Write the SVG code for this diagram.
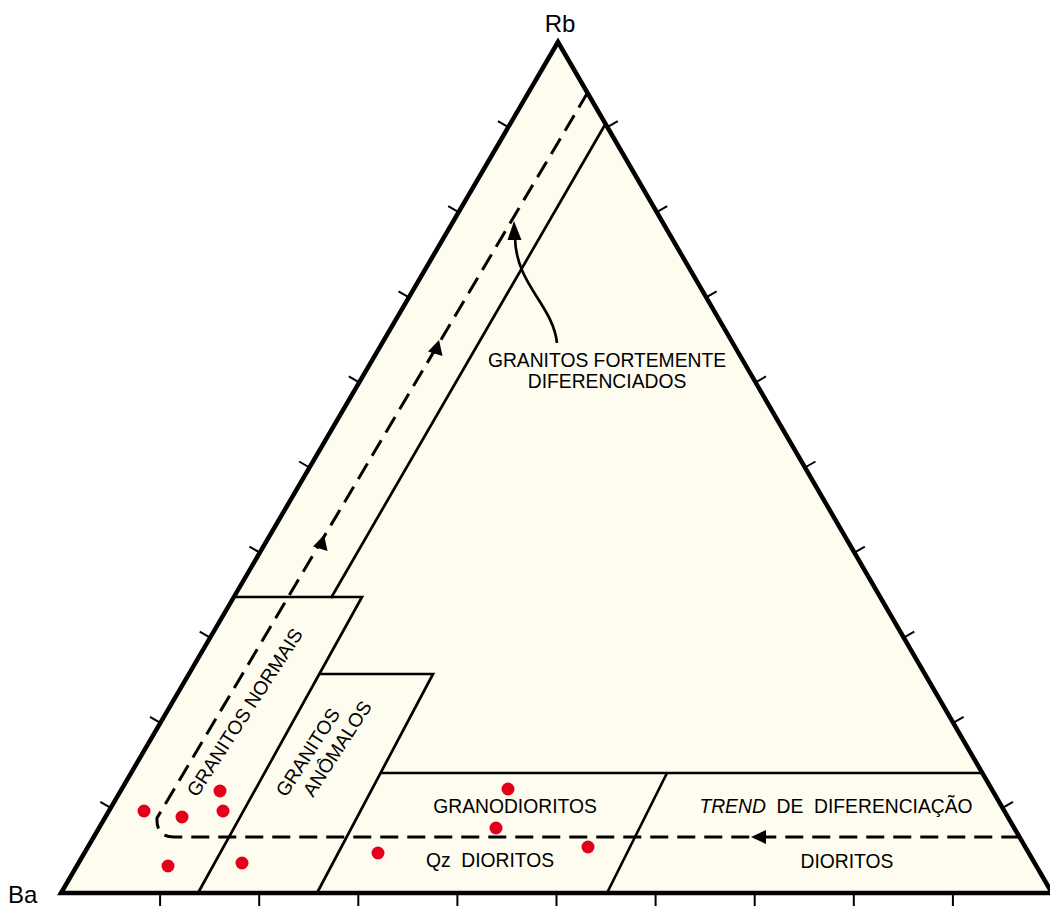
<svg xmlns="http://www.w3.org/2000/svg" width="1050" height="906" viewBox="0 0 1050 906">
<defs>
<style>
.lbl{font-family:"Liberation Sans",Arial,sans-serif;font-size:19.3px;fill:#000;}
.ax{font-family:"Liberation Sans",Arial,sans-serif;font-size:24px;fill:#000;}
.solid{fill:none;stroke:#000;stroke-width:2.7;}
.dash{fill:none;stroke:#000;stroke-width:3;stroke-dasharray:18 9;}
.tick{stroke:#000;stroke-width:2;}
.dot{fill:#e2001a;}
.ah{fill:#000;}
</style>
</defs>
<rect width="1050" height="906" fill="#fff"/>
<g id="triangle">
<polygon points="558,42 61,893 1052,893" fill="#fefcef" stroke="#000" stroke-width="4.5" stroke-linejoin="miter"/>
</g>
<g id="ticks" class="tick">
<line x1="110.7" y1="807.9" x2="100.3" y2="801.9"/>
<line x1="160.4" y1="722.8" x2="150.0" y2="716.8"/>
<line x1="210.1" y1="637.7" x2="199.7" y2="631.7"/>
<line x1="259.8" y1="552.6" x2="249.4" y2="546.6"/>
<line x1="309.5" y1="467.5" x2="299.1" y2="461.5"/>
<line x1="359.2" y1="382.4" x2="348.8" y2="376.4"/>
<line x1="408.9" y1="297.3" x2="398.5" y2="291.3"/>
<line x1="458.6" y1="212.2" x2="448.2" y2="206.2"/>
<line x1="508.3" y1="127.1" x2="497.9" y2="121.1"/>
<line x1="1002.6" y1="807.9" x2="1013.0" y2="801.9"/>
<line x1="953.2" y1="722.8" x2="963.6" y2="716.8"/>
<line x1="903.8" y1="637.7" x2="914.2" y2="631.7"/>
<line x1="854.4" y1="552.6" x2="864.8" y2="546.6"/>
<line x1="805.0" y1="467.5" x2="815.4" y2="461.5"/>
<line x1="755.6" y1="382.4" x2="766.0" y2="376.4"/>
<line x1="706.2" y1="297.3" x2="716.6" y2="291.3"/>
<line x1="656.8" y1="212.2" x2="667.2" y2="206.2"/>
<line x1="607.4" y1="127.1" x2="617.8" y2="121.1"/>
<line x1="160.1" y1="895" x2="160.1" y2="908"/>
<line x1="259.2" y1="895" x2="259.2" y2="908"/>
<line x1="358.3" y1="895" x2="358.3" y2="908"/>
<line x1="457.4" y1="895" x2="457.4" y2="908"/>
<line x1="556.5" y1="895" x2="556.5" y2="908"/>
<line x1="655.6" y1="895" x2="655.6" y2="908"/>
<line x1="754.7" y1="895" x2="754.7" y2="908"/>
<line x1="853.8" y1="895" x2="853.8" y2="908"/>
<line x1="952.9" y1="895" x2="952.9" y2="908"/>
</g>
<g id="fields">
<polyline class="solid" points="606,123 331,598"/>
<polyline class="solid" points="234,597 362,597 198,893"/>
<polyline class="solid" points="320,674 433,674 317,893"/>
<polyline class="solid" points="381,773 982,773"/>
<polyline class="solid" points="667,773 607,893"/>
</g>
<g id="connectors">
<path class="dash" d="M588,92 L157,818 Q156,837 174,837 L1021,837"/>
<polygon class="ah" points="439,340 442.5,356 428,351.5"/>
<polygon class="ah" points="324,535 327.5,551 313,546.5"/>
<polygon class="ah" points="751,837 766,830 766,844"/>
<path class="solid" stroke-width="2" d="M557,343 C553,305 516,285 515,238"/>
<polygon class="ah" points="514,221 521.5,240 507.5,240"/>
</g>
<g id="labels">
<text class="ax" x="560" y="32" text-anchor="middle">Rb</text>
<text class="ax" x="8" y="903">Ba</text>
<text class="lbl" x="607" y="367" text-anchor="middle">GRANITOS FORTEMENTE</text>
<text class="lbl" x="607" y="388" text-anchor="middle">DIFERENCIADOS</text>
<text class="lbl" transform="translate(197,798) rotate(-57)">GRANITOS NORMAIS</text>
<text class="lbl" transform="translate(286,798) rotate(-57)">GRANITOS</text>
<text class="lbl" transform="translate(313,798) rotate(-57)">ANÔMALOS</text>
<text class="lbl" x="515" y="813" text-anchor="middle">GRANODIORITOS</text>
<text class="lbl" x="490" y="867" text-anchor="middle" xml:space="preserve">Qz  DIORITOS</text>
<text class="lbl" x="836" y="813" text-anchor="middle" xml:space="preserve"><tspan font-style="italic">TREND</tspan>  DE  DIFERENCIAÇÃO</text>
<text class="lbl" x="847" y="868" text-anchor="middle">DIORITOS</text>
</g>
<g id="samples">
<circle class="dot" cx="144" cy="811" r="6.5"/>
<circle class="dot" cx="182" cy="817" r="6.5"/>
<circle class="dot" cx="220" cy="791" r="6.5"/>
<circle class="dot" cx="223" cy="811" r="6.5"/>
<circle class="dot" cx="168" cy="866" r="6.5"/>
<circle class="dot" cx="242" cy="863" r="6.5"/>
<circle class="dot" cx="378" cy="853" r="6.5"/>
<circle class="dot" cx="508" cy="789" r="6.5"/>
<circle class="dot" cx="496" cy="828" r="6.5"/>
<circle class="dot" cx="588" cy="847" r="6.5"/>
</g>
</svg>
